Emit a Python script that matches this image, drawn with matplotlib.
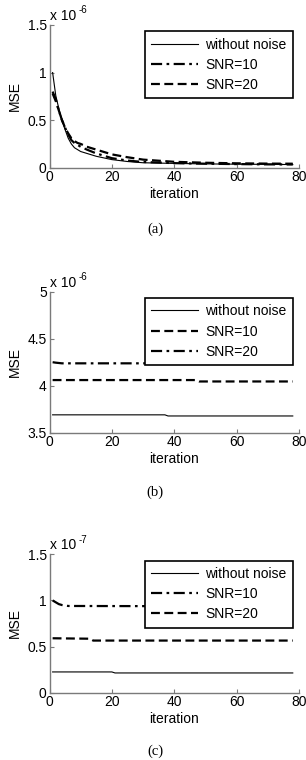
import matplotlib
matplotlib.use("Agg")
import matplotlib.pyplot as plt

plt.rcParams['font.family'] = ['Liberation Sans', 'DejaVu Sans']
plt.rcParams['mathtext.fontset'] = 'custom'
plt.rcParams['mathtext.rm'] = 'Liberation Sans'

# ---- data ----
labels = ["without noise", "SNR=10", "SNR=20"]

# panel (a)  (values x 1e-6)
iter_a = [1, 2, 3, 4, 5, 6, 7, 8, 9, 10, 12, 15, 20, 25, 30, 40, 50, 60, 70, 78]
a_clean = [1.0, 0.76, 0.62, 0.50, 0.40, 0.31, 0.25, 0.21, 0.19, 0.17, 0.15, 0.12, 0.085, 0.065, 0.052, 0.045, 0.040, 0.037, 0.035, 0.033]
a_snr10 = [0.80, 0.72, 0.60, 0.50, 0.42, 0.35, 0.29, 0.26, 0.24, 0.22, 0.19, 0.15, 0.10, 0.075, 0.060, 0.048, 0.042, 0.038, 0.035, 0.034]
a_snr20 = [0.78, 0.70, 0.60, 0.50, 0.42, 0.36, 0.31, 0.28, 0.26, 0.25, 0.22, 0.19, 0.14, 0.11, 0.085, 0.062, 0.052, 0.046, 0.043, 0.042]

# panel (b)  (values x 1e-6)
iter_b_clean = [1, 37, 38, 78]
b_clean = [3.69, 3.69, 3.678, 3.678]
iter_b_snr10 = [1, 47, 48, 78]
b_snr10 = [4.06, 4.06, 4.045, 4.045]
iter_b_snr20 = [1, 2, 4, 57, 60, 78]
b_snr20 = [4.25, 4.245, 4.238, 4.238, 4.232, 4.232]

# panel (c)  (values x 1e-7)
iter_c_clean = [1, 20, 21, 78]
c_clean = [0.225, 0.225, 0.214, 0.214]
iter_c_snr10 = [1, 2, 3, 4, 6, 78]
c_snr10 = [1.0, 0.98, 0.96, 0.95, 0.94, 0.935]
iter_c_snr20 = [1, 13, 14, 78]
c_snr20 = [0.59, 0.585, 0.565, 0.565]

xticks = [0, 20, 40, 60, 80]

fig = plt.figure(figsize=(3.06, 7.6), dpi=100)
W, H = 306.0, 760.0

def make_ax(top_px, bot_px):
    left = 49.5
    right = 299.0
    return fig.add_axes([left / W, 1 - bot_px / H, (right - left) / W, (bot_px - top_px) / H])

FS = 8
solid = dict(color='black', lw=0.8, linestyle='-')
dashdot = dict(color='black', lw=1.6, linestyle=(0, (5, 2, 1.2, 2)))
dashed = dict(color='black', lw=1.6, linestyle=(0, (4, 2)))

def style(ax, ylim, yticks, ytl, expo, caption, cap_y):
    ax.set_xlim(0, 80)
    ax.set_ylim(*ylim)
    ax.set_xticks(xticks)
    ax.set_xticklabels([str(t) for t in xticks])
    ax.set_yticks(yticks)
    ax.set_yticklabels(ytl)
    for s in ['top', 'right']:
        ax.spines[s].set_visible(False)
    for s in ['left', 'bottom']:
        ax.spines[s].set_color('#7a7a7a')
        ax.spines[s].set_linewidth(1.0)
    ax.tick_params(direction='in', length=3, width=0.8, color='#7a7a7a', labelsize=FS + 2, pad=2)
    ax.set_ylabel('MSE', fontsize=FS + 2, labelpad=4)
    ax.set_xlabel('iteration', fontsize=FS + 2, labelpad=2)
    ax.text(0.0, 1.015, 'x 10', transform=ax.transAxes, fontsize=FS + 2, ha='left', va='bottom')
    ax.text(0.117, 1.07, expo, transform=ax.transAxes, fontsize=FS - 1, ha='left', va='bottom')
    fig.text(155 / W, 1 - cap_y / H, caption, fontsize=FS + 2.5, ha='center', va='center',
             family=['Liberation Serif', 'DejaVu Serif'])
    leg = ax.legend(loc='upper right', bbox_to_anchor=(0.975, 0.955), fontsize=FS + 2,
                    frameon=True, fancybox=False, handlelength=3.4, handletextpad=0.5,
                    labelspacing=0.45, borderpad=0.45, borderaxespad=0)
    leg.get_frame().set_edgecolor('black')
    leg.get_frame().set_linewidth(1.2)
    leg.get_frame().set_alpha(1)

# (a)
ax1 = make_ax(25.0, 167.7)
ax1.plot(iter_a, a_clean, label=labels[0], **solid)
ax1.plot(iter_a, a_snr10, label=labels[1], **dashdot)
ax1.plot(iter_a, a_snr20, label=labels[2], **dashed)
style(ax1, (0, 1.5), [0, 0.5, 1, 1.5], ['0', '0.5', '1', '1.5'], '-6', '(a)', 229)

# (b)
ax2 = make_ax(291.7, 432.7)
ax2.plot(iter_b_clean, b_clean, label=labels[0], **solid)
ax2.plot(iter_b_snr10, b_snr10, label=labels[1], **dashed)
ax2.plot(iter_b_snr20, b_snr20, label=labels[2], **dashdot)
style(ax2, (3.5, 5.0), [3.5, 4, 4.5, 5], ['3.5', '4', '4.5', '5'], '-6', '(b)', 492)

# (c)
ax3 = make_ax(554.3, 692.7)
ax3.plot(iter_c_clean, c_clean, label=labels[0], **solid)
ax3.plot(iter_c_snr10, c_snr10, label=labels[1], **dashdot)
ax3.plot(iter_c_snr20, c_snr20, label=labels[2], **dashed)
style(ax3, (0, 1.5), [0, 0.5, 1, 1.5], ['0', '0.5', '1', '1.5'], '-7', '(c)', 751)

fig.savefig('out.png', dpi=100)
